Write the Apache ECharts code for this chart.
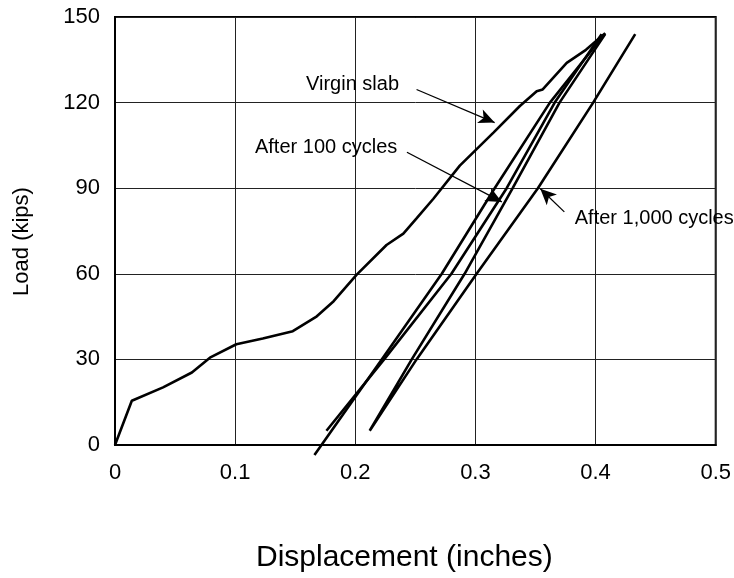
<!DOCTYPE html>
<html>
<head>
<meta charset="utf-8">
<script src="https://cdn.jsdelivr.net/npm/echarts@6/dist/echarts.min.js"></script>
<style>
html,body{margin:0;padding:0;background:#fff;}
#chart{width:734px;height:578px;}
</style>
</head>
<body>
<div id="chart"></div>
<script>
// Tick labels
const xTickLabels = ['0', '0.1', '0.2', '0.3', '0.4', '0.5'];
const yTickLabels = ['0', '30', '60', '90', '120', '150'];

// Virgin slab: loading curve then unloading branch (displacement in, load kips)
const virginDisp = [0, 0.014, 0.040, 0.064, 0.079, 0.101, 0.123, 0.148, 0.168, 0.182, 0.201, 0.226, 0.240, 0.251, 0.265, 0.287, 0.315, 0.337, 0.351, 0.356, 0.376, 0.392, 0.408,
                    0.362, 0.316, 0.272, 0.222, 0.166];
const virginLoad = [0, 15.5, 20.2, 25.4, 30.6, 35.3, 37.3, 39.9, 45.1, 50.4, 59.6, 70.1, 74.1, 79.4, 86.3, 97.9, 109.5, 118.8, 124.0, 124.6, 133.9, 138.5, 144.3,
                    120, 90, 60, 30, -3.5];

// After 100 cycles
const cyc100Disp = [0.176, 0.224, 0.280, 0.326, 0.366, 0.405];
const cyc100Load = [5, 30, 60, 90, 120, 144];

// After 1,000 cycles (from peak down, then up to the right)
const cyc1000Disp = [0.408, 0.370, 0.331, 0.291, 0.247, 0.212, 0.251, 0.301, 0.352, 0.398, 0.433];
const cyc1000Load = [144, 120, 90, 60, 30, 5, 30, 60, 90, 120, 144];

// Annotations
const annotationTexts = ['Virgin slab', 'After 100 cycles', 'After 1,000 cycles'];
const annotationTextAt = [[0.159, 126.3], [0.1165, 104.3], [0.3827, 79.4]];
const arrowFrom = [[0.251, 124.6], [0.243, 102.6], [0.374, 81.7]];
const arrowTo = [[0.316, 113], [0.322, 85.2], [0.354, 89.8]];

function pairs(xs, ys) { return xs.map((x, i) => [x, ys[i]]); }

const FONT = "'Liberation Sans', Arial, Helvetica, sans-serif";
const lineStyle = { color: '#000', width: 2.6 };

const chart = echarts.init(document.getElementById('chart'), null, { renderer: 'canvas' });
chart.setOption({
  animation: false,
  backgroundColor: '#fff',
  grid: {
    left: 115, right: 18, top: 17, bottom: 130,
    containLabel: false,
    show: true, borderColor: '#000', borderWidth: 2, backgroundColor: 'transparent'
  },
  xAxis: {
    type: 'value', min: 0, max: 0.5, interval: 0.1,
    name: 'Displacement (inches)', nameLocation: 'middle', nameGap: 98,
    nameTextStyle: { fontFamily: FONT, fontSize: 30, color: '#000', padding: [0, 22, 0, 0] },
    axisLine: { show: true, lineStyle: { color: '#000', width: 2 } },
    axisTick: { show: false },
    axisLabel: { fontFamily: FONT, fontSize: 22, color: '#000', margin: 17,
      formatter: (v, i) => xTickLabels[i] },
    splitLine: { show: true, lineStyle: { color: '#222', width: 1 } }
  },
  yAxis: {
    type: 'value', min: 0, max: 150, interval: 30,
    name: 'Load (kips)', nameLocation: 'middle', nameGap: 82,
    nameTextStyle: { fontFamily: FONT, fontSize: 22, color: '#000', padding: [0, 21, 0, 0] },
    axisLine: { show: true, lineStyle: { color: '#000', width: 2 } },
    axisTick: { show: false },
    axisLabel: { fontFamily: FONT, fontSize: 22, color: '#000', margin: 15,
      formatter: (v, i) => yTickLabels[i] },
    splitLine: { show: true, lineStyle: { color: '#222', width: 1 } }
  },
  series: [
    { name: 'Virgin slab', type: 'line', data: pairs(virginDisp, virginLoad), showSymbol: false, symbol: 'none',
      lineStyle: lineStyle, clip: false, z: 3 },
    { name: 'After 100 cycles', type: 'line', data: pairs(cyc100Disp, cyc100Load), showSymbol: false, symbol: 'none',
      lineStyle: lineStyle, clip: false, z: 3 },
    { name: 'After 1,000 cycles', type: 'line', data: pairs(cyc1000Disp, cyc1000Load), showSymbol: false, symbol: 'none',
      lineStyle: lineStyle, clip: false, z: 3 },
    { name: 'annotations', type: 'line', data: [], z: 4,
      markLine: {
        silent: true, animation: false,
        symbol: ['none', 'arrow'], symbolSize: [11, 16],
        label: { show: false },
        lineStyle: { color: '#000', width: 1.3, type: 'solid' },
        data: arrowFrom.map((f, i) => [{ coord: f }, { coord: arrowTo[i] }])
      },
      markPoint: {
        silent: true, animation: false,
        data: annotationTexts.map((t, i) => ({
          coord: annotationTextAt[i], symbol: 'circle', symbolSize: 0,
          itemStyle: { color: 'transparent' },
          label: { show: true, position: 'right', distance: 0, formatter: t,
            fontFamily: FONT, fontSize: 20, color: '#000' }
        }))
      }
    }
  ]
});
</script>
</body>
</html>
